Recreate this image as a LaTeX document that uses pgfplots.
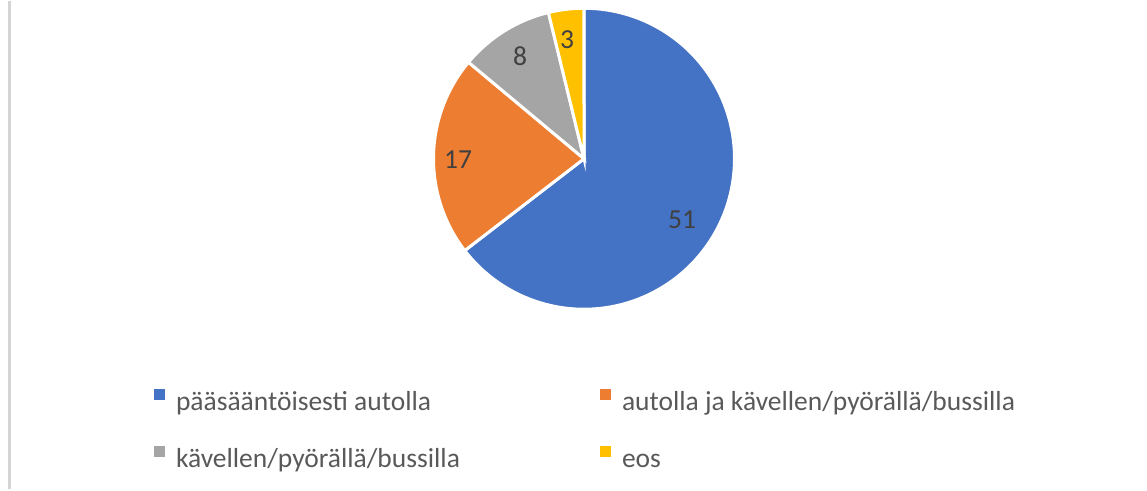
\documentclass[border=0pt]{standalone}
\usepackage{pgfplots}
\pgfplotsset{compat=1.18}
\usepackage{fontspec}
\setmainfont{Carlito}
\definecolor{cblue}{HTML}{4472C4}
\definecolor{corange}{HTML}{ED7D31}
\definecolor{cgray}{HTML}{A5A5A5}
\definecolor{cyellow}{HTML}{FFC000}
\definecolor{ltxt}{HTML}{404040}
\definecolor{legtxt}{HTML}{595959}
\definecolor{frame}{HTML}{D4D4D4}
% data
\def\va{51}\def\vb{17}\def\vc{8}\def\vd{3}
\pgfmathsetmacro\tot{\va+\vb+\vc+\vd}
\pgfmathsetmacro\aA{90-\va/\tot*360}
\pgfmathsetmacro\aB{\aA-\vb/\tot*360}
\pgfmathsetmacro\aC{\aB-\vc/\tot*360}
\pgfmathsetmacro\aD{\aC-\vd/\tot*360}
\def\cx{584}\def\cy{330.5}\def\R{150.5}
\begin{document}
\begin{tikzpicture}
\begin{axis}[
  scale only axis, width=1147pt, height=488pt,
  xmin=0, xmax=1147, ymin=0, ymax=488,
  hide axis, clip=false,
  legend columns=2,
  legend cell align=left,
  legend style={at={(axis cs:152,100)}, anchor=north west, draw=none, fill=none,
    inner sep=0pt, outer sep=0pt, column sep=0pt, row sep=28pt,
    font=\fontsize{27.5}{33}\selectfont\color{legtxt},
    nodes={inner sep=0pt, text height=20pt, text depth=7pt}},
  legend image code/.code={\fill[#1, draw=none] (0pt,4pt) rectangle (11pt,15pt); \path (0pt,0pt) -- (21pt,0pt);},
]
\path (rel axis cs:0,0) rectangle (rel axis cs:1,1);
\draw[frame, line width=2.5pt] (axis cs:9.5,0) -- (axis cs:9.5,488);
\addplot[fill=cblue, draw=white, line width=3pt, domain=\aA:90, samples=120, variable=\t]
  ({\cx+\R*cos(t)},{\cy+\R*sin(t)}) -- (axis cs:\cx,\cy) -- cycle;
\addlegendentry{\makebox[422pt][l]{pääsääntöisesti autolla}}
\addplot[fill=corange, draw=white, line width=3pt, domain=\aB:\aA, samples=60, variable=\t]
  ({\cx+\R*cos(t)},{\cy+\R*sin(t)}) -- (axis cs:\cx,\cy) -- cycle;
\addlegendentry{autolla ja kävellen/pyörällä/bussilla}
\addplot[fill=cgray, draw=white, line width=3pt, domain=\aC:\aB, samples=40, variable=\t]
  ({\cx+\R*cos(t)},{\cy+\R*sin(t)}) -- (axis cs:\cx,\cy) -- cycle;
\addlegendentry{\makebox[422pt][l]{kävellen/pyörällä/bussilla}}
\addplot[fill=cyellow, draw=white, line width=3pt, domain=\aD:\aC, samples=20, variable=\t]
  ({\cx+\R*cos(t)},{\cy+\R*sin(t)}) -- (axis cs:\cx,\cy) -- cycle;
\addlegendentry{eos}
\begin{scope}[every node/.style={font=\fontsize{27.5}{33}\selectfont, text=ltxt}]
\node at (axis cs:682,270) {\va};
\node at (axis cs:458,330) {\vb};
\node at (axis cs:520,433) {\vc};
\node at (axis cs:567,450) {\vd};
\end{scope}
\end{axis}
\end{tikzpicture}
\end{document}
